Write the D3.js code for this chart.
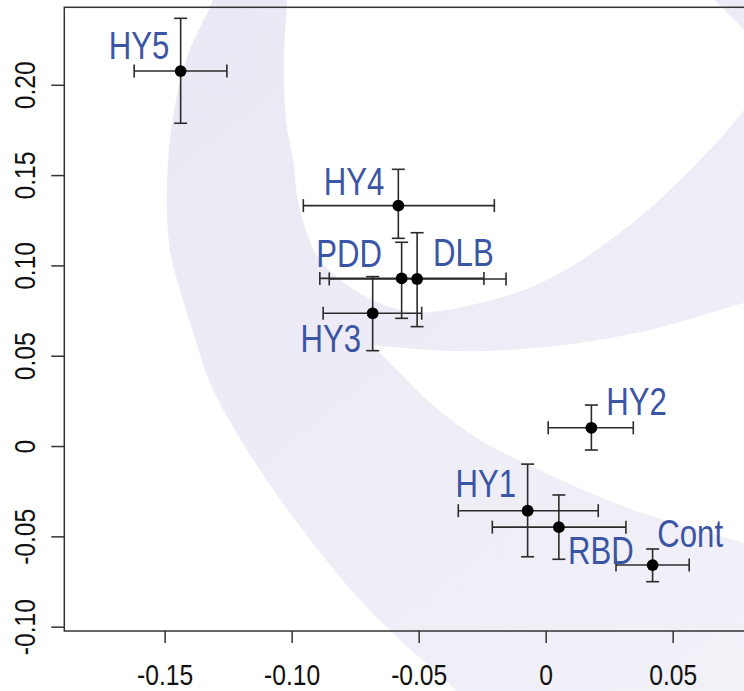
<!DOCTYPE html>
<html><head><meta charset="utf-8">
<script src="https://cdn.jsdelivr.net/npm/d3@7"></script>
<style>html,body{margin:0;padding:0;background:#fff;overflow:hidden}</style>
</head><body><div id="chart"></div>
<script>
// ---- data ----
const groups = ["HY5","HY4","PDD","DLB","HY3","HY2","HY1","RBD","Cont"];
const xMean  = [-0.1437,-0.0580,-0.0567,-0.0506,-0.0681, 0.0180,-0.0071, 0.0052, 0.0421];
const xLow   = [-0.1620,-0.0954,-0.0889,-0.0852,-0.0876, 0.0010,-0.0344,-0.0210, 0.0277];
const xHigh  = [-0.1255,-0.0202,-0.0243,-0.0156,-0.0488, 0.0345, 0.0207, 0.0316, 0.0565];
const yMean  = [ 0.2076, 0.1331, 0.0928, 0.0925, 0.0735, 0.0101,-0.0358,-0.0449,-0.0659];
const yLow   = [ 0.1787, 0.1150, 0.0707, 0.0661, 0.0528,-0.0022,-0.0613,-0.0627,-0.0751];
const yHigh  = [ 0.2368, 0.1532, 0.1128, 0.1181, 0.0938, 0.0227,-0.0100,-0.0271,-0.0570];
const labelX = [-0.1601,-0.0754,-0.0774,-0.0324,-0.0846, 0.0358,-0.0236, 0.0217, 0.0569];
const labelY = [ 0.2218, 0.1464, 0.1066, 0.1070, 0.0598, 0.0245,-0.0208,-0.0576,-0.0483];
const xTicks = [-0.15,-0.10,-0.05,0,0.05];
const xTickLabels = ["-0.15","-0.10","-0.05","0","0.05"];
const yTicks = [-0.10,-0.05,0,0.05,0.10,0.15,0.20];
const yTickLabels = ["-0.10","-0.05","0","0.05","0.10","0.15","0.20"];

// ---- layout ----
const W = 744, H = 691;
const mLeft = 64.3, mTop = 7.3, mBottom = 631, mRight = 760.3;
const x = d3.scaleLinear().domain([-0.1895, 0.0845]).range([mLeft, mRight]);
const y = d3.scaleLinear().domain([-0.1024, 0.2429]).range([mBottom, mTop]);

const svg = d3.select("#chart").append("svg").attr("width", W).attr("height", H)
  .style("display","block");

const FONT = "'Liberation Sans',Arial,sans-serif";
const NARROW = 0.82; // condensed look of the original typeface
const axisCol = "#333";

// ---- background watermark (decorative swirl) ----
const defs = svg.append("defs");
const grad = defs.append("linearGradient").attr("id","wmGrad")
  .attr("gradientUnits","userSpaceOnUse").attr("x1",200).attr("y1",0).attr("x2",744).attr("y2",691);
grad.append("stop").attr("offset","0").attr("stop-color","#eae8f4");
grad.append("stop").attr("offset","1").attr("stop-color","#f2f1f8");

const wm = svg.append("g");
const cur = d3.line().curve(d3.curveCatmullRom.alpha(0.5));
const outerEdge = [[216,-12],[213,0],[187,57],[173,117],[167,183],[170,250],[183,300],[197,345],
  [210,383],[247,450],[293,517],[330,565],[360,600],[400,640],[457,691],[470,705]];
wm.append("path").attr("fill","url(#wmGrad)")
  .attr("d", cur(outerEdge) + "L780,705L780,-12Z");
const inner = [[287,-12],[287,0],[284,60],[286,120],[293,160],[300,210],[320,260],[363,295],
  [413,312],[480,303],[547,280],[630,225],[700,160],[744,110],[770,70]];
const innerTop = [[770,60],[744,30],[715,0],[705,-12]];
wm.append("path").attr("fill","#ffffff")
  .attr("d", cur(inner) + "L" + cur(innerTop).slice(1) + "Z");
const cresTop = [[372,345],[450,351],[547,347],[650,330],[744,303],[780,295]];
const cresBot = [[780,556],[744,543],[633,510],[533,467],[480,440],[427,400],[395,368],[372,345]];
wm.append("path").attr("fill","#ffffff")
  .attr("d", cur(cresTop) + "L" + cur(cresBot).slice(1) + "Z");

// ---- frame & axes ----
svg.append("rect").attr("x", mLeft).attr("y", mTop).attr("width", mRight-mLeft).attr("height", mBottom-mTop)
  .attr("fill","none").attr("stroke",axisCol).attr("stroke-width",1.5);

const xAxis = d3.axisBottom(x).tickValues(xTicks).tickSize(12)
  .tickFormat((d,i)=>xTickLabels[i]);
const gx = svg.append("g").attr("transform",`translate(0,${mBottom})`).call(xAxis);
gx.select(".domain").remove();
gx.selectAll(".tick line").attr("stroke",axisCol).attr("stroke-width",1.5);
gx.selectAll(".tick text").attr("fill","#111").style("font-family",FONT).style("font-size","30px")
  .attr("dy", null).attr("y", 0).attr("transform",`translate(0,54) scale(${NARROW},1)`);

const yAxis = d3.axisLeft(y).tickValues(yTicks).tickSize(13)
  .tickFormat((d,i)=>yTickLabels[i]);
const gy = svg.append("g").attr("transform",`translate(${mLeft},0)`).call(yAxis);
gy.select(".domain").remove();
gy.selectAll(".tick line").attr("stroke",axisCol).attr("stroke-width",1.5);
gy.selectAll(".tick text").attr("fill","#111").style("font-family",FONT).style("font-size","30px")
  .attr("x", 0).attr("dy", null).attr("text-anchor","middle")
  .attr("transform",`translate(-29.5,0) rotate(-90) scale(${NARROW},1)`);

// ---- error bars ----
const data = groups.map((g,i)=>({g, xm:xMean[i], xl:xLow[i], xh:xHigh[i], ym:yMean[i], yl:yLow[i], yh:yHigh[i], lx:labelX[i], ly:labelY[i]}));
const cap = 6.5;
const eb = svg.append("g").attr("stroke","#2b2b2b").attr("stroke-width",1.6).attr("fill","none");
data.forEach(d=>{
  const px = x(d.xm), py = y(d.ym);
  eb.append("line").attr("x1",x(d.xl)).attr("x2",x(d.xh)).attr("y1",py).attr("y2",py);
  eb.append("line").attr("x1",x(d.xl)).attr("x2",x(d.xl)).attr("y1",py-cap).attr("y2",py+cap);
  eb.append("line").attr("x1",x(d.xh)).attr("x2",x(d.xh)).attr("y1",py-cap).attr("y2",py+cap);
  eb.append("line").attr("x1",px).attr("x2",px).attr("y1",y(d.yl)).attr("y2",y(d.yh));
  eb.append("line").attr("x1",px-cap).attr("x2",px+cap).attr("y1",y(d.yl)).attr("y2",y(d.yl));
  eb.append("line").attr("x1",px-cap).attr("x2",px+cap).attr("y1",y(d.yh)).attr("y2",y(d.yh));
});

// ---- points ----
svg.append("g").selectAll("circle").data(data).join("circle")
  .attr("cx",d=>x(d.xm)).attr("cy",d=>y(d.ym)).attr("r",5.9).attr("fill","#000");

// ---- labels ----
svg.append("g").selectAll("text").data(data).join("text")
  .attr("x",0).attr("y",0).attr("dy","0.36em")
  .attr("transform",d=>`translate(${x(d.lx)},${y(d.ly)}) scale(${NARROW},1)`)
  .attr("text-anchor","middle").attr("fill","#3b55a5")
  .style("font-family",FONT).style("font-size","38px")
  .text(d=>d.g);
</script>
</body></html>
